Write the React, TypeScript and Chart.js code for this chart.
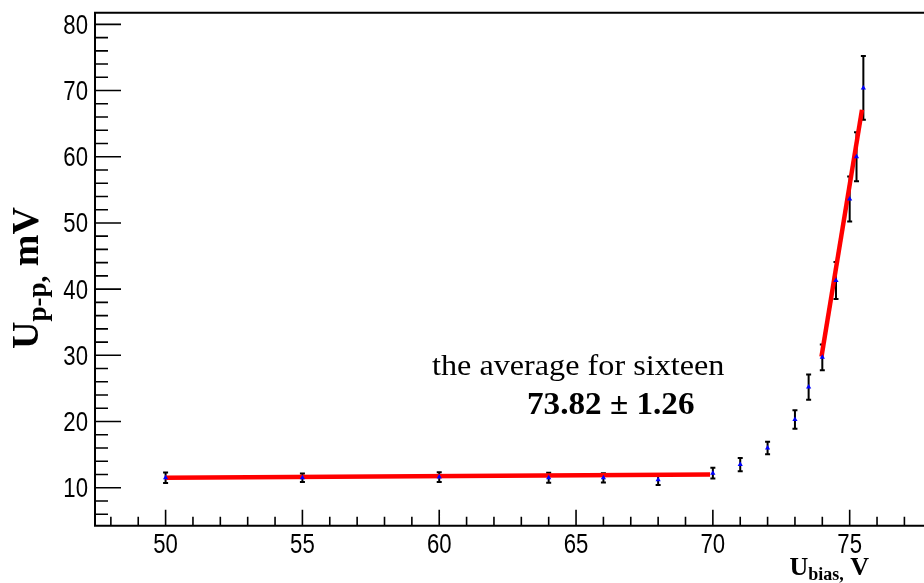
import { useEffect, useRef } from "react";
import { Chart, registerables } from "chart.js";

Chart.register(...registerables);

// Measured bias scan: bias voltage (V), peak-to-peak amplitude (mV) and its error
const biasVoltage = [50, 55, 60, 64, 66, 68, 70, 71, 72, 73, 73.5, 74, 74.5, 75, 75.25, 75.5];
const amplitude = [11.5, 11.5, 11.6, 11.5, 11.5, 11.2, 12.2, 13.5, 16.0, 20.3, 25.2, 29.7, 41.3, 53.6, 60.0, 70.4];
const amplitudeErr = [0.8, 0.65, 0.75, 0.75, 0.7, 0.8, 0.8, 1.0, 0.95, 1.4, 1.9, 1.95, 2.8, 3.4, 3.7, 4.8];

// Linear fits: plateau and steep rise
const plateauFitX = [50, 69.9];
const plateauFitY = [11.5, 12.0];
const riseFitX = [73.97, 75.45];
const riseFitY = [29.8, 67.1];

// Axis ranges and tick labels
const xRange = [47.42, 77.57];
const yRange = [4.26, 81.76];
const xMajorTicks = [50, 55, 60, 65, 70, 75];
const yMajorTicks = [10, 20, 30, 40, 50, 60, 70, 80];

const annotationLine1 = "the average for sixteen";
const annotationLine2 = "73.82 \u00b1 1.26";

function drawText(
  ctx: CanvasRenderingContext2D,
  text: string,
  x: number,
  y: number,
  font: string,
  align: CanvasTextAlign,
  sx = 1
) {
  ctx.save();
  ctx.font = font;
  ctx.textAlign = align;
  ctx.textBaseline = "alphabetic";
  ctx.fillStyle = "#000";
  ctx.translate(x, y);
  ctx.scale(sx, 1);
  ctx.fillText(text, 0, 0);
  ctx.restore();
}

const framePlugin = {
  id: "frameAndErrors",
  beforeDatasetsDraw(chart: any) {
    const ctx: CanvasRenderingContext2D = chart.ctx;
    const xs = chart.scales.x;
    const ys = chart.scales.y;
    ctx.save();
    ctx.strokeStyle = "#000";
    ctx.lineWidth = 2;
    biasVoltage.forEach((v, i) => {
      const px = xs.getPixelForValue(v);
      const top = ys.getPixelForValue(amplitude[i] + amplitudeErr[i]);
      const bot = ys.getPixelForValue(amplitude[i] - amplitudeErr[i]);
      ctx.beginPath();
      ctx.moveTo(px, top);
      ctx.lineTo(px, bot);
      ctx.moveTo(px - 2.5, top);
      ctx.lineTo(px + 2.5, top);
      ctx.moveTo(px - 2.5, bot);
      ctx.lineTo(px + 2.5, bot);
      ctx.stroke();
    });
    ctx.restore();
  },
  afterDraw(chart: any) {
    const ctx: CanvasRenderingContext2D = chart.ctx;
    const { left, top, bottom } = chart.chartArea;
    const edge = chart.width;
    const xs = chart.scales.x;
    const ys = chart.scales.y;

    ctx.save();
    // frame
    ctx.strokeStyle = "#000";
    ctx.lineWidth = 2;
    ctx.beginPath();
    ctx.moveTo(edge, top);
    ctx.lineTo(left, top);
    ctx.lineTo(left, bottom);
    ctx.lineTo(edge, bottom);
    ctx.stroke();

    // x ticks
    ctx.lineWidth = 1.6;
    ctx.beginPath();
    for (let v = Math.ceil(xRange[0]); v <= xRange[1]; v += 1) {
      const px = xs.getPixelForValue(v);
      const len = v % 5 === 0 ? 16 : 9;
      ctx.moveTo(px, bottom);
      ctx.lineTo(px, bottom - len);
    }
    // y ticks
    for (let v = Math.ceil(yRange[0] / 2) * 2; v <= yRange[1]; v += 2) {
      const py = ys.getPixelForValue(v);
      const len = v % 10 === 0 ? 26 : 13;
      ctx.moveTo(left, py);
      ctx.lineTo(left + len, py);
    }
    ctx.stroke();
    ctx.restore();

    const tickFont = "27px 'Liberation Sans', Arial, sans-serif";
    xMajorTicks.forEach((v) => {
      drawText(ctx, String(v), xs.getPixelForValue(v), bottom + 27.5, tickFont, "center", 0.82);
    });
    yMajorTicks.forEach((v) => {
      drawText(ctx, String(v), left - 7, ys.getPixelForValue(v) + 9.5, tickFont, "right", 0.82);
    });

    const serifB = (s: number) => `bold ${s}px 'Liberation Serif', 'Times New Roman', serif`;

    // x title: U_{bias,} V, right aligned
    {
      const base = 575;
      const parts: [string, string, number][] = [
        ["U", serifB(26), 0],
        ["bias,", serifB(18), 5],
        [" V", serifB(26), 0],
      ];
      let w = 0;
      parts.forEach(([t, f]) => {
        ctx.font = f;
        w += ctx.measureText(t).width;
      });
      let x = 869 - w;
      parts.forEach(([t, f, dy]) => {
        drawText(ctx, t, x, base + dy, f, "left");
        ctx.font = f;
        x += ctx.measureText(t).width;
      });
    }

    // y title: U_{p-p,} mV, rotated
    {
      const parts: [string, string, number][] = [
        ["U", serifB(38), 0],
        ["p-p,", serifB(27), 8],
        [" mV", serifB(38), 0],
      ];
      let w = 0;
      parts.forEach(([t, f]) => {
        ctx.font = f;
        w += ctx.measureText(t).width;
      });
      ctx.save();
      ctx.translate(38, 278);
      ctx.rotate(-Math.PI / 2);
      let x = -w / 2;
      parts.forEach(([t, f, dy]) => {
        drawText(ctx, t, x, dy, f, "left");
        ctx.font = f;
        x += ctx.measureText(t).width;
      });
      ctx.restore();
    }

    // annotation
    drawText(ctx, annotationLine1, 432, 374.5, "28.5px 'Liberation Serif', 'Times New Roman', serif", "left", 1.13);
    drawText(ctx, annotationLine2, 527, 414, serifB(31), "left", 1.07);
  },
};

export default function App() {
  const canvasRef = useRef<HTMLCanvasElement | null>(null);

  useEffect(() => {
    if (!canvasRef.current) return;
    const chart = new Chart(canvasRef.current, {
      type: "scatter",
      data: {
        datasets: [
          {
            data: biasVoltage.map((x, i) => ({ x, y: amplitude[i] })),
            pointStyle: "triangle",
            pointRadius: 3,
            backgroundColor: "#0000ff",
            borderColor: "#0000ff",
            borderWidth: 0,
            showLine: false,
          },
          {
            data: plateauFitX.map((x, i) => ({ x, y: plateauFitY[i] })),
            showLine: true,
            borderColor: "#ff0000",
            borderWidth: 4.5,
            pointRadius: 0,
          },
          {
            data: riseFitX.map((x, i) => ({ x, y: riseFitY[i] })),
            showLine: true,
            borderColor: "#ff0000",
            borderWidth: 4.5,
            pointRadius: 0,
          },
        ],
      },
      options: {
        animation: false,
        responsive: false,
        events: [],
        layout: { padding: { left: 95, top: 12.7, right: 0, bottom: 57.3 } },
        plugins: { legend: { display: false }, tooltip: { enabled: false } },
        scales: {
          x: { type: "linear", display: false, min: xRange[0], max: xRange[1] },
          y: { type: "linear", display: false, min: yRange[0], max: yRange[1] },
        },
      },
      plugins: [framePlugin],
    });
    return () => chart.destroy();
  }, []);

  return (
    <div style={{ position: "absolute", left: 0, top: 0, width: 924, height: 583, background: "#fff" }}>
      <canvas ref={canvasRef} width={924} height={583} style={{ display: "block" }} />
    </div>
  );
}
